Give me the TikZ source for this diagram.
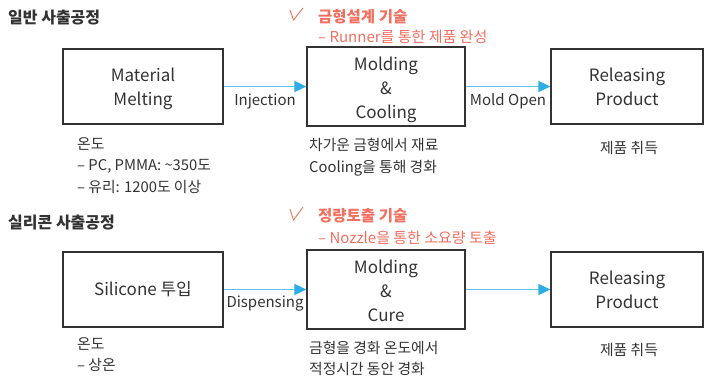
\documentclass[tikz,border=0pt]{standalone}
\usepackage{fontspec}
\setmainfont{Noto Sans CJK KR}
\usetikzlibrary{arrows.meta}
\definecolor{ink}{HTML}{333333}
\definecolor{accent}{HTML}{F2705F}
\definecolor{flowline}{HTML}{62C0EA}
\definecolor{flowtip}{HTML}{2DADE4}

% centred lines of box text, lowered a little (extra room on top) so they sit
% optically in the middle of the box
\newcommand{\stagelines}[2][3.5pt]{%
  \raisebox{0pt}[\dimexpr\height+#1*2\relax][\depth]{%
    \begin{tabular}{@{}c@{}}#2\end{tabular}}}

\begin{document}
\begin{tikzpicture}[x=1pt,y=-1pt,
  stagebox/.style={draw=ink, line width=1.2pt, minimum height=75pt, inner sep=0pt,
    align=center, font=\fontsize{17}{24}\selectfont, text=ink},
  flow/.style={draw=flowline, line width=1.6pt,
    -{Triangle[length=12pt,width=11pt,color=flowtip]}},
  flowlabel/.style={font=\fontsize{15}{18}\selectfont, text=ink, yshift=-14.5pt},
  note/.style={font=\fontsize{14.8}{21.5}\selectfont, text=ink, align=left,
    anchor=north west, inner sep=0pt},
  centernote/.style={font=\fontsize{14.8}{21.5}\selectfont, text=ink, anchor=north,
    inner sep=0pt},
  heading/.style={font=\bfseries\fontsize{16}{18}\selectfont, text=ink,
    anchor=west, inner sep=0pt},
  techtitle/.style={font=\bfseries\fontsize{15.5}{18}\selectfont, text=accent,
    anchor=west, inner sep=0pt},
  techsub/.style={font=\fontsize{15}{18}\selectfont, text=accent,
    anchor=west, inner sep=0pt},
  tick/.style={draw=accent, line width=0.9pt, line join=miter}]

\useasboundingbox[fill=white] (0,0) rectangle (706,378);

% ---------- conventional injection molding ----------
\node[heading] (head1) at (8,18) {일반 사출공정};
\draw[tick] (290,10) -- (293.5,20) -- (303,8);
\node[techtitle] (tech1) at (318,17) {금형설계 기술};
\node[techsub] (techsub1) at (318,37) {– Runner를 통한 제품 완성};

\node[stagebox, minimum width=160pt] (melt) at (143,86.5) {\stagelines[2.5pt]{Material\\Melting}};
\node[stagebox, minimum width=158pt] (mold) at (386,86.5) {\stagelines{Molding\\\&\\Cooling}};
\node[stagebox, minimum width=152pt] (release) at (627,86.5) {\stagelines[2pt]{Releasing\\Product}};

\draw[flow] (melt.east) -- (mold.west) node[flowlabel, midway] (inj) {Injection};
\draw[flow] (mold.east) -- (release.west) node[flowlabel, midway] (open) {Mold Open};

\node[note] (melttemp) at (77,137) {온도\\– PC, PMMA: \textasciitilde350도\\– 유리: 1200도 이상};
\node[note] (moldnote) at (309,138) {차가운 금형에서 재료\\Cooling을 통해 경화};
\node[centernote] (relnote) at (629,141.5) {제품 취득};

% ---------- silicone injection molding ----------
\node[heading] (head2) at (8,223) {실리콘 사출공정};
\draw[tick] (290,209) -- (293.5,220) -- (303,207);
\node[techtitle] (tech2) at (318,216) {정량토출 기술};
\node[techsub] (techsub2) at (318,238) {– Nozzle을 통한 소요량 토출};

\node[stagebox, minimum width=160pt] (feed) at (143,289.5) {Silicone 투입};
\node[stagebox, minimum width=158pt] (cure) at (386,289.5) {\stagelines{Molding\\\&\\Cure}};
\node[stagebox, minimum width=152pt] (release2) at (627,289.5) {\stagelines[2pt]{Releasing\\Product}};

\draw[flow] (feed.east) -- (cure.west) node[flowlabel, midway] (disp) {Dispensing};
\draw[flow] (cure.east) -- (release2.west);

\node[note] (feedtemp) at (77,337) {온도\\– 상온};
\node[note] (curenote) at (309,340.5) {금형을 경화 온도에서\\적정시간 동안 경화};
\node[centernote] (relnote2) at (629,343) {제품 취득};

\end{tikzpicture}
\end{document}
